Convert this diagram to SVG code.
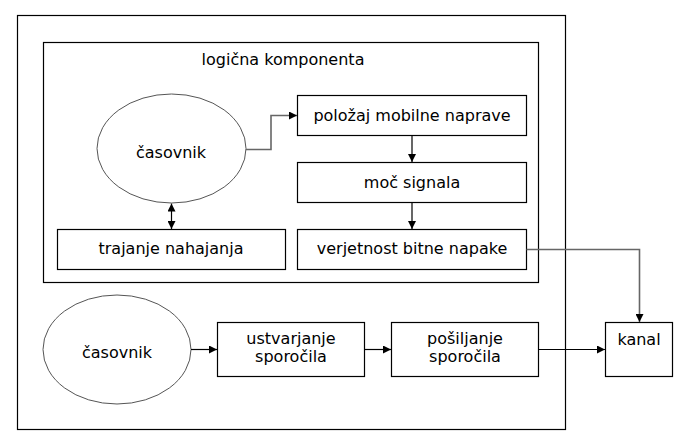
<svg xmlns="http://www.w3.org/2000/svg" width="691" height="445" viewBox="0 0 691 445">
<style>
  .box{fill:#fff;stroke:#000;stroke-width:1.2}
  .ell{fill:#fff;stroke:#555;stroke-width:1}
  .t{font-family:"DejaVu Sans",Verdana,sans-serif;font-size:16px;fill:#000;text-anchor:middle}
  .c{fill:none;stroke:#000;stroke-width:1.2}
  .g{fill:none;stroke:#666;stroke-width:1.6}
</style>
<defs>
  <marker id="ah" viewBox="0 0 10 10" refX="10" refY="5" markerWidth="8" markerHeight="8" markerUnits="userSpaceOnUse" orient="auto-start-reverse">
    <path d="M0,0 L10,5 L0,10 Z" fill="#000"/>
  </marker>
</defs>
<rect width="691" height="445" fill="#fff"/>
<g id="outer"><rect class="box" x="17.5" y="15.5" width="548" height="414"/></g>
<g id="logicna"><rect class="box" x="43.5" y="42.5" width="495" height="240"/>
  <text class="t" x="283" y="65">logična komponenta</text></g>
<g id="casovnik1"><ellipse class="ell" cx="171.5" cy="148.5" rx="74.5" ry="54.5"/>
  <text class="t" x="171" y="158">časovnik</text></g>
<g id="polozaj"><rect class="box" x="297.5" y="95.5" width="229" height="40"/>
  <text class="t" x="412" y="120.5">položaj mobilne naprave</text></g>
<g id="moc"><rect class="box" x="297.5" y="162.5" width="229" height="40"/>
  <text class="t" x="412" y="187.5">moč signala</text></g>
<g id="verjetnost"><rect class="box" x="297.5" y="229.5" width="229" height="40"/>
  <text class="t" x="412" y="254">verjetnost bitne napake</text></g>
<g id="trajanje"><rect class="box" x="57.5" y="229.5" width="228" height="40"/>
  <text class="t" x="171" y="254">trajanje nahajanja</text></g>
<g id="casovnik2"><ellipse class="ell" cx="117" cy="349.5" rx="74" ry="54.5"/>
  <text class="t" x="117" y="358">časovnik</text></g>
<g id="ustvarjanje"><rect class="box" x="217.5" y="322.5" width="147" height="54"/>
  <text class="t" x="291" y="344">ustvarjanje</text>
  <text class="t" x="291" y="362">sporočila</text></g>
<g id="posiljanje"><rect class="box" x="391.5" y="322.5" width="147" height="54"/>
  <text class="t" x="465" y="344">pošiljanje</text>
  <text class="t" x="465" y="362">sporočila</text></g>
<g id="kanal"><rect class="box" x="605.5" y="322.5" width="67" height="54"/>
  <text class="t" x="639" y="345">kanal</text></g>
<g id="connectors">
  <path class="g" d="M246,149.5 H271 V115.5 H297" marker-end="url(#ah)"/>
  <path class="c" d="M412,135.5 V162" marker-end="url(#ah)"/>
  <path class="c" d="M412,202.5 V229" marker-end="url(#ah)"/>
  <path class="c" d="M171.5,203.5 V229" marker-start="url(#ah)" marker-end="url(#ah)"/>
  <path class="g" d="M526.5,249.5 H639.5 V322" marker-end="url(#ah)"/>
  <path class="c" d="M191,349.5 H217" marker-end="url(#ah)"/>
  <path class="c" d="M364.5,349.5 H391" marker-end="url(#ah)"/>
  <path class="c" d="M538.5,349.5 H605" marker-end="url(#ah)"/>
</g>
</svg>
